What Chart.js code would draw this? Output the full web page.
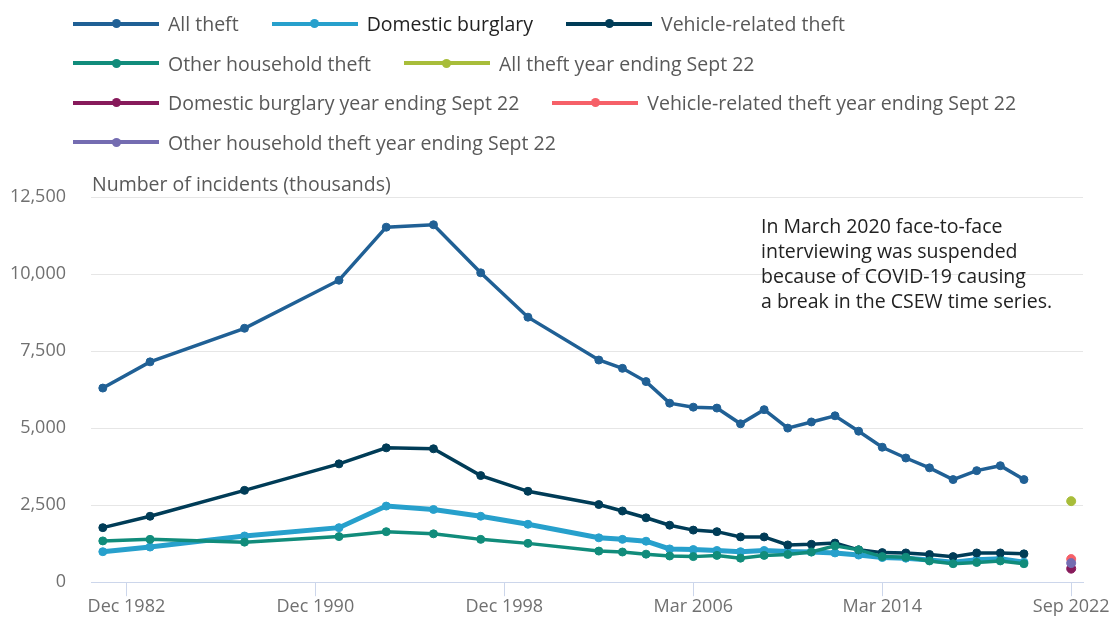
<!DOCTYPE html>
<html>
<head>
<meta charset="utf-8">
<script src="https://cdn.jsdelivr.net/npm/chart.js@4.4.1/dist/chart.umd.min.js"></script>
<style>
  html, body { margin: 0; padding: 0; background: #fff; }
  body { width: 1114px; height: 618px; position: relative; overflow: hidden; font-family: "Open Sans", sans-serif; }
  #chart { position: absolute; left: 0; top: 0; }
  #legend { position: absolute; left: 73px; top: 4px; width: 1040px; display: flex; flex-wrap: wrap; column-gap: 33px; }
  .item { display: flex; align-items: center; height: 39.5px; font-size: 19.5px; color: #595959; white-space: nowrap; }
  .swatch { position: relative; width: 86px; height: 4px; margin-right: 9px; }
  .swatch i { position: absolute; left: 50%; top: 50%; width: 9px; height: 9px; margin: -4.5px 0 0 -4.5px; border-radius: 50%; background: inherit; }
</style>
</head>
<body>
<canvas id="chart" width="1114" height="618"></canvas>
<div id="legend"></div>
<script>
// x axis: one slot per year, labels every 8th slot
const categories = [
  'Dec 1981', 'Dec 1982', 'Dec 1983', 'Dec 1984', 'Dec 1985', 'Dec 1986', 'Dec 1987', 'Dec 1988',
  'Dec 1989', 'Dec 1990', 'Dec 1991', 'Dec 1992', 'Dec 1993', 'Dec 1994', 'Dec 1995', 'Dec 1996',
  'Dec 1997', 'Dec 1998', 'Dec 1999', 'Dec 2000', 'Dec 2001', 'Mar 2002', 'Mar 2003', 'Mar 2004',
  'Mar 2005', 'Mar 2006', 'Mar 2007', 'Mar 2008', 'Mar 2009', 'Mar 2010', 'Mar 2011', 'Mar 2012',
  'Mar 2013', 'Mar 2014', 'Mar 2015', 'Mar 2016', 'Mar 2017', 'Mar 2018', 'Mar 2019', 'Mar 2020',
  'Mar 2021', 'Sep 2022'
];

const surveyPeriods = [
  'Dec 1981', 'Dec 1983', 'Dec 1987', 'Dec 1991', 'Dec 1993', 'Dec 1995', 'Dec 1997', 'Dec 1999',
  'Mar 2002', 'Mar 2003', 'Mar 2004', 'Mar 2005', 'Mar 2006', 'Mar 2007', 'Mar 2008', 'Mar 2009',
  'Mar 2010', 'Mar 2011', 'Mar 2012', 'Mar 2013', 'Mar 2014', 'Mar 2015', 'Mar 2016', 'Mar 2017',
  'Mar 2018', 'Mar 2019', 'Mar 2020'
];

// thousands of incidents
const allTheft = [6300, 7150, 8240, 9800, 11520, 11600, 10040, 8600,
  7210, 6940, 6510, 5810, 5680, 5650, 5140, 5600, 5000, 5200, 5400, 4900, 4380, 4030, 3710, 3330, 3620, 3780, 3330];
const domesticBurglary = [990, 1140, 1500, 1770, 2470, 2360, 2140, 1880,
  1440, 1390, 1330, 1080, 1060, 1030, 990, 1030, 1000, 980, 950, 880, 800, 780, 720, 650, 730, 760, 650];
const vehicleTheft = [1770, 2140, 2980, 3840, 4360, 4330, 3460, 2950,
  2520, 2310, 2090, 1850, 1690, 1640, 1470, 1470, 1210, 1230, 1270, 1050, 960, 950, 900, 830, 950, 950, 920];
const otherHousehold = [1340, 1390, 1300, 1480, 1640, 1570, 1390, 1260,
  1010, 980, 910, 850, 830, 870, 780, 870, 900, 980, 1180, 1050, 830, 810, 690, 600, 640, 690, 600];

const latestPeriod = 'Sep 2022';
const latestValues = [2630, 440, 750, 620]; // all, burglary, vehicle, other

const seriesNames = ['All theft', 'Domestic burglary', 'Vehicle-related theft', 'Other household theft'];
const latestNames = ['All theft year ending Sept 22', 'Domestic burglary year ending Sept 22',
  'Vehicle-related theft year ending Sept 22', 'Other household theft year ending Sept 22'];
const seriesColours = ['#206095', '#27a0cc', '#003c57', '#118c7b'];
const latestColours = ['#a8bd3a', '#871a5b', '#f66068', '#746cb1'];

const yTitle = 'Number of incidents (thousands)';
const noteLines = [
  'In March 2020 face-to-face',
  'interviewing was suspended',
  'because of COVID-19 causing',
  'a break in the CSEW time series.'
];

const trendSeries = [allTheft, domesticBurglary, vehicleTheft, otherHousehold];

const datasets = [];
trendSeries.forEach((values, i) => {
  datasets.push({
    label: seriesNames[i],
    data: surveyPeriods.map((p, j) => ({ x: p, y: values[j] })),
    borderColor: seriesColours[i],
    backgroundColor: seriesColours[i],
    borderWidth: i === 1 ? 5 : 3.5,
    pointRadius: 4,
    pointBorderWidth: 1,
    spanGaps: true,
    order: 20 - i
  });
});
latestValues.forEach((v, i) => {
  datasets.push({
    label: latestNames[i],
    data: [{ x: latestPeriod, y: v }],
    borderColor: latestColours[i],
    backgroundColor: latestColours[i],
    borderWidth: 3.5,
    pointRadius: 4.5,
    pointBorderWidth: 1,
    order: 10 - i
  });
});

const textPlugin = {
  id: 'textPlugin',
  afterDraw(chart) {
    const ctx = chart.ctx;
    ctx.save();
    ctx.textBaseline = 'middle';
    ctx.font = '19.5px "Open Sans"';
    ctx.fillStyle = '#595959';
    ctx.fillText(yTitle, chart.chartArea.left + 1, 185);
    ctx.fillStyle = '#222222';
    noteLines.forEach((t, i) => ctx.fillText(t, 761, 227 + i * 25));
    ctx.restore();
  }
};

Chart.defaults.font.family = '"Open Sans", sans-serif';

const chart = new Chart(document.getElementById('chart').getContext('2d'), {
  type: 'line',
  data: { labels: categories, datasets },
  options: {
    responsive: false,
    animation: false,
    layout: { padding: { top: 197, right: 31, bottom: 0, left: 0 } },
    plugins: {
      legend: { display: false },
      tooltip: { enabled: false }
    },
    scales: {
      x: {
        type: 'category',
        offset: true,
        grid: { drawOnChartArea: false, tickLength: 14, color: '#ccd6eb' },
        border: { color: '#ccd6eb' },
        ticks: {
          autoSkip: false,
          maxRotation: 0,
          padding: 0,
          color: '#707070',
          font: { size: 18 },
          callback(value, index) {
            return index % 8 === 1 ? this.getLabelForValue(value) : null;
          }
        },
        afterFit(scale) { scale.height = 34; }
      },
      y: {
        min: 0,
        max: 12500,
        ticks: { stepSize: 2500, padding: 25, color: '#707070', font: { size: 18 } },
        grid: {
          drawTicks: false,
          color: c => c.tick.value === 0 ? '#ccd6eb' : '#e6e6e6'
        },
        border: { display: false },
        afterFit(scale) { scale.width = 91; }
      }
    }
  },
  plugins: [textPlugin]
});

// legend built from the datasets, in the order shown in the original
const legendEl = document.getElementById('legend');
chart.data.datasets.forEach((ds, i) => {
  const item = document.createElement('div');
  item.className = 'item';
  if (i === 1) item.style.color = '#222222';
  const sw = document.createElement('span');
  sw.className = 'swatch';
  sw.style.background = ds.borderColor;
  sw.appendChild(document.createElement('i'));
  item.appendChild(sw);
  item.appendChild(document.createTextNode(ds.label));
  legendEl.appendChild(item);
});
</script>
</body>
</html>
